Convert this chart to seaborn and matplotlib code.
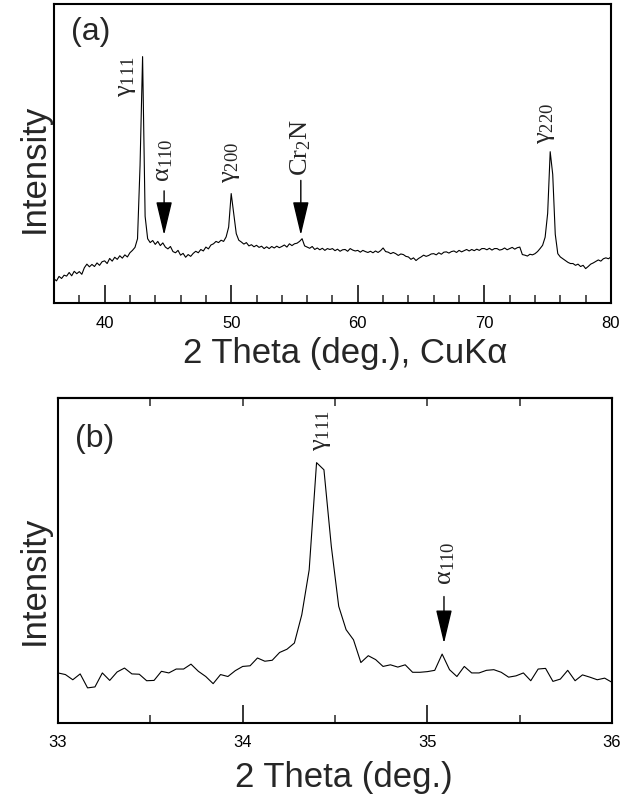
import numpy as np
import matplotlib
matplotlib.use("Agg")
import matplotlib.pyplot as plt
import seaborn as sns

# panel (a): wide scan, 36-80 deg, step 0.2
x_a = np.round(np.arange(36.0, 80.01, 0.2), 1)
y_a = [
    8.1, 7.4, 8.9, 8.2, 9.3,        # 36
    9.0, 10.2, 9.1, 10.6, 9.8,      # 37
    10.5, 9.6, 11.8, 13.0, 12.1,    # 38
    12.9, 12.2, 13.4, 12.6, 13.8,   # 39
    14.1, 13.2, 14.9, 14.0, 15.3,   # 40
    14.6, 15.8, 15.0, 16.1, 15.4,   # 41
    16.8, 17.6, 18.6, 21.5, 46.0,   # 42
    82.4, 29.0, 21.5, 20.2, 20.9,   # 43
    19.6, 20.6, 19.2, 20.1, 18.7,   # 44
    18.1, 18.9, 17.2, 16.8, 17.6,   # 45
    16.0, 16.6, 15.3, 16.2, 15.6,   # 46
    16.6, 17.3, 16.8, 17.9, 17.4,   # 47
    18.7, 18.1, 19.4, 19.8, 20.6,   # 48
    20.2, 21.0, 20.6, 22.1, 25.4,   # 49
    36.6, 29.9, 23.2, 21.0, 20.4,   # 50
    19.7, 20.2, 19.1, 19.5, 18.8,   # 51
    19.3, 18.6, 19.0, 18.2, 18.8,   # 52
    18.2, 18.9, 18.4, 19.0, 18.5,   # 53
    18.9, 19.4, 18.7, 19.8, 19.2,   # 54
    19.8, 20.0, 20.6, 21.5, 19.1,   # 55
    18.7, 18.3, 18.9, 17.9, 18.4,   # 56
    17.8, 18.3, 17.6, 18.2, 17.9,   # 57
    18.2, 17.5, 18.0, 17.3, 17.8,   # 58
    17.9, 17.3, 18.2, 17.7, 17.4,   # 59
    17.6, 17.0, 17.6, 17.2, 16.9,   # 60
    17.3, 16.8, 17.4, 16.9, 17.5,   # 61
    18.4, 17.2, 17.0, 16.5, 16.9,   # 62
    16.5, 15.9, 16.4, 16.2, 15.6,   # 63
    15.4, 14.6, 15.1, 14.2, 14.9,   # 64
    15.4, 16.0, 15.6, 15.9, 16.4,   # 65
    16.5, 16.1, 16.8, 16.3, 17.0,   # 66
    17.1, 16.7, 17.2, 17.4, 16.9,   # 67
    17.6, 17.1, 17.5, 17.9, 17.4,   # 68
    17.9, 17.5, 18.0, 17.6, 18.2,   # 69
    18.2, 17.8, 18.3, 17.7, 18.2,   # 70
    18.2, 17.7, 17.9, 18.4, 17.8,   # 71
    18.2, 18.6, 18.0, 18.5, 18.7,   # 72
    16.2, 16.0, 15.7, 16.3, 16.1,   # 73
    16.5, 17.2, 18.2, 19.3, 22.0,   # 74
    30.0, 50.6, 43.0, 23.0, 16.5,   # 75
    15.4, 14.8, 14.2, 13.6, 13.2,   # 76
    13.2, 12.6, 13.0, 12.2, 12.6,   # 77
    11.5, 12.2, 13.0, 13.4, 13.9,   # 78
    14.4, 14.0, 14.8, 15.1, 14.8,   # 79
    15.4,                           # 80
]

# panel (b): narrow scan, 33-36 deg, step 0.04
x_b = np.round(np.arange(33.0, 36.001, 0.04), 2)
y_b = [
    15.4, 14.9, 13.3, 15.1, 10.8, 11.1, 15.4, 13.1, 15.7, 16.9,
    15.1, 15.0, 13.0, 13.1, 15.9, 15.4, 16.6, 16.6, 18.1, 15.9,
    14.3, 12.1, 14.9, 14.3, 16.1, 17.4, 17.6, 20.0, 19.0, 19.3,
    21.7, 22.7, 24.6, 33.3, 47.1, 80.1, 77.9, 54.3, 35.9, 28.7,
    25.6, 18.6, 20.7, 19.5, 17.4, 17.9, 17.2, 17.9, 15.6, 15.6,
    15.8, 16.2, 21.2, 16.4, 14.3, 17.4, 15.4, 15.4, 16.2, 16.4,
    15.6, 14.1, 14.5, 15.4, 13.0, 16.6, 16.8, 12.8, 13.5, 16.2,
    13.0, 14.8, 14.1, 13.3, 13.8, 12.5,
]

# peak labels: (text, x, y of text bottom)
peaks_a = [(r"$\mathregular{\gamma_{111}}$", 41.75, 69.0),
           (r"$\mathregular{\alpha_{110}}$", 44.7, 40.5),
           (r"$\mathregular{\gamma_{200}}$", 50.0, 40.0),
           (r"$\mathregular{Cr_2N}$", 55.5, 42.5),
           (r"$\mathregular{\gamma_{220}}$", 74.9, 53.3)]
arrows_a = [(44.7, 37.5, 22.7), (55.5, 41.0, 22.7)]
peaks_b = [(r"$\mathregular{\gamma_{111}}$", 34.43, 83.6),
           (r"$\mathregular{\alpha_{110}}$", 35.10, 42.5)]
arrows_b = [(35.09, 38.9, 24.5)]

sns.set_style("ticks")
plt.rcParams['font.family'] = ['Liberation Sans', 'DejaVu Sans']
plt.rcParams['mathtext.fontset'] = 'stix'

fig = plt.figure(figsize=(6.32, 7.98), dpi=100)
ax_a = fig.add_axes([0.0854, 0.6203, 0.8813, 0.3747])
ax_b = fig.add_axes([0.0918, 0.0940, 0.8766, 0.4073])

sns.lineplot(x=x_a, y=y_a, ax=ax_a, color='k', lw=0.8)
sns.lineplot(x=x_b, y=y_b, ax=ax_b, color='k', lw=0.8)

arrow_kw = dict(arrowstyle='-|>,head_length=2.1,head_width=0.5',
                color='k', lw=1.0, shrinkA=0, shrinkB=0)
serif = ['Liberation Serif', 'DejaVu Serif']

for ax in (ax_a, ax_b):
    ax.set_ylim(0, 100)
    ax.set_yticks([])
    for s in ax.spines.values():
        s.set_linewidth(1.5)
        s.set_color('k')
    ax.tick_params(axis='x', which='major', direction='in', length=13,
                   width=1.1, labelsize=12, pad=9, colors='k')
    ax.tick_params(axis='x', which='minor', direction='in', length=6,
                   width=1.1)

# (a)
ax_a.set_xlim(36, 80)
ax_a.set_xticks([40, 50, 60, 70, 80])
ax_a.set_xticks(np.arange(38, 80, 2), minor=True)
ax_a.set_xlabel("2 Theta (deg.), CuK\u03b1", fontsize=25)
ax_a.xaxis.set_label_coords(0.522, -0.113, transform=ax_a.transAxes)
ax_a.xaxis.label.set_va('top')
ax_a.set_ylabel("Intensity", fontsize=25)
ax_a.yaxis.set_label_coords(-0.006, 0.45)
ax_a.text(0.03, 0.955, "(a)", transform=ax_a.transAxes, fontsize=23,
          ha='left', va='top')
for txt, x, y in peaks_a:
    ax_a.text(x, y, txt, rotation=90, ha='center', va='bottom',
              fontsize=19, family=serif)
for x, y0, y1 in arrows_a:
    ax_a.annotate('', xy=(x, y1), xytext=(x, y0), arrowprops=arrow_kw)

# (b)
ax_b.set_xlim(33, 36)
ax_b.set_xticks([33, 34, 35, 36])
ax_b.set_xticks([33.5, 34.5, 35.5], minor=True)
ax_b.set_xlabel("2 Theta (deg.)", fontsize=25)
ax_b.xaxis.set_label_coords(0.516, -0.118, transform=ax_b.transAxes)
ax_b.xaxis.label.set_va('top')
ax_b.set_ylabel("Intensity", fontsize=25)
ax_b.yaxis.set_label_coords(-0.013, 0.44)
ax_b.text(0.031, 0.92, "(b)", transform=ax_b.transAxes, fontsize=23,
          ha='left', va='top')
top = ax_b.secondary_xaxis('top')
top.set_xticks([33.5, 34, 34.5, 35, 35.5])
top.tick_params(direction='in', length=6, width=1.1, labeltop=False)
top.spines['top'].set_linewidth(1.5)
for txt, x, y in peaks_b:
    ax_b.text(x, y, txt, rotation=90, ha='center', va='bottom',
              fontsize=19, family=serif)
for x, y0, y1 in arrows_b:
    ax_b.annotate('', xy=(x, y1), xytext=(x, y0), arrowprops=arrow_kw)

fig.savefig("out.png", dpi=100)
